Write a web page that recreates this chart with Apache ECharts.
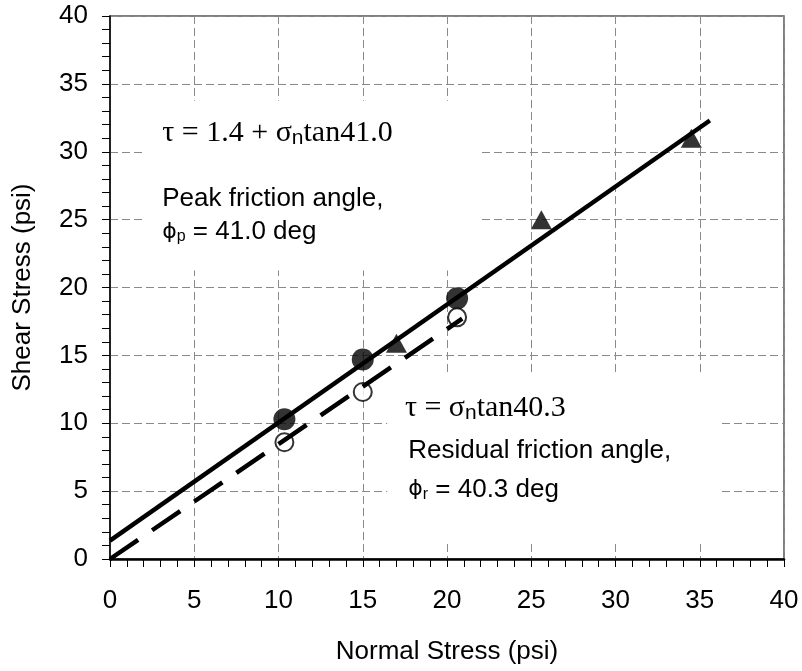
<!DOCTYPE html>
<html><head><meta charset="utf-8">
<script src="https://cdn.jsdelivr.net/npm/echarts@6/dist/echarts.min.js"></script>
<style>html,body{margin:0;padding:0;background:#fff}#c{width:802px;height:671px}</style>
</head><body><div id="c"></div>
<script>
const xTicks = [0,5,10,15,20,25,30,35,40];
const yTicks = [0,5,10,15,20,25,30,35,40];
const peakPoints = [[10.35,10.3],[15.0,14.7],[20.6,19.2]];
const residualPoints = [[10.35,8.6],[15.0,12.3],[20.6,17.8]];
const trianglePoints = [[17.0,15.9],[25.6,25.0],[34.5,31.0]];
const peakLine = [[0,1.35],[35.6,32.3]];
const residualLine = [[0,0],[20.9,17.7]];

const chart = echarts.init(document.getElementById('c'));
const sansF = 'Liberation Sans, Arial, sans-serif';
const axisCommon = {
  min: 0, max: 40, interval: 5,
  axisLine: {show: true, onZero: false, lineStyle: {color: '#000', width: 1.5}},
  axisTick: {show: true, inside: false, length: 8, lineStyle: {color: '#000', width: 1}},
  minorTick: {show: true, splitNumber: 5, length: 8, lineStyle: {color: '#000', width: 1}},
  splitLine: {show: true, lineStyle: {color: '#8a8a8a', type: [8, 4], width: 1}},
  axisLabel: {color: '#000', fontFamily: sansF, fontSize: 26},
  nameTextStyle: {color: '#000', fontFamily: sansF, fontSize: 26}
};
chart.setOption({
  animation: false,
  grid: {left: 110, right: 18, top: 16, bottom: 112, show: true, borderColor: '#555', borderWidth: 1.5},
  xAxis: Object.assign({}, axisCommon, {
    type: 'value', name: 'Normal Stress (psi)', nameLocation: 'middle', nameGap: 80,
    axisLine: {show: true, onZero: false, lineStyle: {color: '#000', width: 2.5}},
    axisLabel: Object.assign({}, axisCommon.axisLabel, {margin: 29, formatter: v => xTicks.includes(v) ? String(v) : ''})
  }),
  yAxis: Object.assign({}, axisCommon, {
    type: 'value', name: 'Shear Stress (psi)', nameLocation: 'middle', nameGap: 74, nameRotate: 90,
    axisLabel: Object.assign({}, axisCommon.axisLabel, {margin: 22, formatter: v => yTicks.includes(v) ? String(v) : ''})
  }),
  series: [
    {type: 'scatter', data: trianglePoints, symbol: 'triangle', symbolSize: [21, 19], itemStyle: {color: '#000'}, z: 3},
    {type: 'scatter', data: peakPoints, symbol: 'circle', symbolSize: 22, itemStyle: {color: '#000'}, z: 3},
    {type: 'scatter', data: residualPoints, symbol: 'circle', symbolSize: 18, itemStyle: {color: '#fff', borderColor: '#000', borderWidth: 2}, z: 3},
    {type: 'line', data: peakLine, showSymbol: false, symbol: 'none', lineStyle: {color: '#000', width: 4.5, cap: 'butt'}, z: 4},
    {type: 'line', data: residualLine, showSymbol: false, symbol: 'none', lineStyle: {color: '#000', width: 4.5, type: [34, 17], cap: 'butt'}, z: 4}
  ]
});

function px(x, y) { return chart.convertToPixel({gridIndex: 0}, [x, y]); }
const serif = 'Liberation Serif, Times New Roman, serif';
function box(x0, y0, x1, y1) {
  const p0 = px(x0, y0), p1 = px(x1, y1);
  return {type: 'rect', z: 1, shape: {x: p0[0], y: p0[1], width: p1[0] - p0[0], height: p1[1] - p0[1]}, style: {fill: '#fff'}, silent: true};
}
function eq(pos, main1, main2) {
  return {type: 'text', z: 2, x: pos[0], y: pos[1], style: {
    text: '{m|' + main1 + '}{s|n}{m|' + main2 + '}', verticalAlign: 'middle',
    rich: {m: {fontFamily: serif, fontSize: 30, fill: '#000'}, s: {fontFamily: sansF, fontSize: 21, fill: '#000', padding: [10,0,0,0]}}
  }};
}
function plain(pos, t) {
  return {type: 'text', z: 2, x: pos[0], y: pos[1], style: {text: t, fontFamily: sansF, fontSize: 26, fill: '#000', verticalAlign: 'middle'}};
}
function phi(pos, sub, rest) {
  return {type: 'text', z: 2, x: pos[0], y: pos[1], style: {
    text: '{p|\u03D5}{s|' + sub + '}{r|' + rest + '}', verticalAlign: 'middle',
    rich: {p: {fontFamily: 'DejaVu Sans', fontSize: 22, fill: '#000'}, s: {fontFamily: sansF, fontSize: 16, fill: '#000', padding: [9,0,0,0]}, r: {fontFamily: sansF, fontSize: 26, fill: '#000'}}
  }};
}
chart.setOption({graphic: [
  box(1.9, 33.75, 22.0, 21.25),
  box(16.45, 13.75, 36.2, 1.4),
  eq(px(3.1, 31.4), 'τ = 1.4 + σ', 'tan41.0'),
  plain(px(3.1, 26.5), 'Peak friction angle,'),
  phi(px(3.1, 24.1), 'p', ' = 41.0 deg'),
  eq(px(17.5, 11.1), 'τ = σ', 'tan40.3'),
  plain(px(17.7, 7.95), 'Residual friction angle,'),
  phi(px(17.7, 5.1), 'r', ' = 40.3 deg')
]});
</script></body></html>
